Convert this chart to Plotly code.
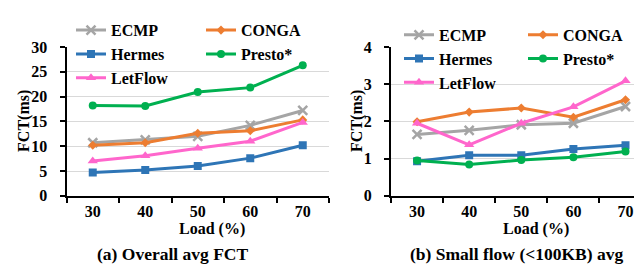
import plotly.graph_objects as go

loads = ["30", "40", "50", "60", "70"]
series_names = ["ECMP", "CONGA", "Hermes", "Presto*", "LetFlow"]

overall_ecmp = [10.7, 11.3, 12.0, 14.2, 17.2]
overall_conga = [10.2, 10.7, 12.6, 13.1, 15.3]
overall_hermes = [4.7, 5.2, 6.0, 7.6, 10.2]
overall_presto = [18.2, 18.1, 20.9, 21.8, 26.3]
overall_letflow = [7.0, 8.1, 9.6, 11.0, 14.8]

small_ecmp = [1.65, 1.76, 1.91, 1.95, 2.40]
small_conga = [1.99, 2.25, 2.36, 2.11, 2.58]
small_hermes = [0.93, 1.09, 1.09, 1.26, 1.36]
small_presto = [0.95, 0.84, 0.96, 1.04, 1.19]
small_letflow = [1.95, 1.37, 1.95, 2.39, 3.09]

colors = ["#A5A5A5", "#ED7D31", "#2E75B6", "#00B050", "#FF66CC"]
symbols = ["x-thin", "diamond", "square", "circle", "triangle-up"]
msizes = [9, 7, 8, 8, 9]

W, H = 642, 269
FONT = "Liberation Serif"

fig = go.Figure()

panels = [
    ([overall_ecmp, overall_conga, overall_hermes, overall_presto, overall_letflow], "x", "y", ("legend", "legend2")),
    ([small_ecmp, small_conga, small_hermes, small_presto, small_letflow], "x2", "y2", ("legend3", "legend4")),
]
col_of = [0, 1, 0, 1, 0]
for vals, xa, ya, legs in panels:
    for i, name in enumerate(series_names):
        mk = dict(symbol=symbols[i], size=msizes[i], color=colors[i])
        if symbols[i] == "x-thin":
            mk["line"] = dict(width=2.5, color=colors[i])
        fig.add_trace(go.Scatter(
            x=loads, y=vals[i], name=name, mode="lines+markers",
            line=dict(color=colors[i], width=3), marker=mk,
            xaxis=xa, yaxis=ya, legend=legs[col_of[i]],
        ))

def px(x):
    return x / W

def py(y):
    return 1 - y / H

ydom = [py(192), py(33)]
tfont = dict(family=FONT, size=16, color="black", weight="bold")
xcommon = dict(type="category", tickson="boundaries", ticks="outside", ticklen=5,
               tickcolor="black", tickwidth=1.5, showgrid=False, showline=True,
               linecolor="black", linewidth=2, tickfont=tfont, ticklabelstandoff=0,
               ticklabeloverflow="allow")
ycommon = dict(ticks="outside", ticklen=5, tickcolor="black", tickwidth=1.5,
               showgrid=True, gridcolor="#D9D9D9", gridwidth=1, zeroline=False,
               showline=True, linecolor="black", linewidth=2, tickfont=tfont,
               ticklabelstandoff=9)
fig.update_layout(
    width=W, height=H, margin=dict(l=0, r=0, t=0, b=0),
    paper_bgcolor="white", plot_bgcolor="white",
    font=dict(family=FONT, color="black", weight="bold"),
    xaxis=dict(domain=[px(58.5), px(321)], range=[-0.5, 4.5], anchor="y", **xcommon),
    yaxis=dict(domain=ydom, range=[0, 30], dtick=5, anchor="x", **ycommon),
    xaxis2=dict(domain=[px(383), 1.0], range=[-0.5, 4.47], anchor="y2", **xcommon),
    yaxis2=dict(domain=ydom, range=[0, 4], dtick=1, anchor="x2", **ycommon),
)

leg_common = dict(orientation="v", xanchor="left", yanchor="top", bgcolor="rgba(0,0,0,0)",
                  font=dict(family=FONT, size=16, color="black", weight="bold"),
                  tracegroupgap=0, itemwidth=30)
fig.update_layout(
    legend=dict(x=px(63), y=py(-3), **leg_common),
    legend2=dict(x=px(193), y=py(-3), **leg_common),
    legend3=dict(x=px(391), y=py(2), **leg_common),
    legend4=dict(x=px(515), y=py(2), **leg_common),
)

ann_font = dict(family=FONT, size=16, color="black", weight="bold")
cap_font = dict(family=FONT, size=17.5, color="black", weight="bold")
annotations = [
    dict(text="Load (%)", x=px(204), y=py(227.5), font=ann_font),
    dict(text="Load (%)", x=px(528), y=py(227.5), font=ann_font),
    dict(text="(a) Overall avg FCT", x=px(165), y=py(254), font=cap_font),
    dict(text="(b) Small flow (&lt;100KB) avg", x=px(508), y=py(254), font=cap_font),
    dict(text="FCT(ms)", x=px(16), y=py(112), textangle=-90, font=ann_font),
    dict(text="FCT(ms)", x=px(349), y=py(112), textangle=-90, font=ann_font),
]
for a in annotations:
    fig.add_annotation(xref="paper", yref="paper", showarrow=False,
                       xanchor="center", yanchor="middle", **a)

fig.write_html("out.html")
